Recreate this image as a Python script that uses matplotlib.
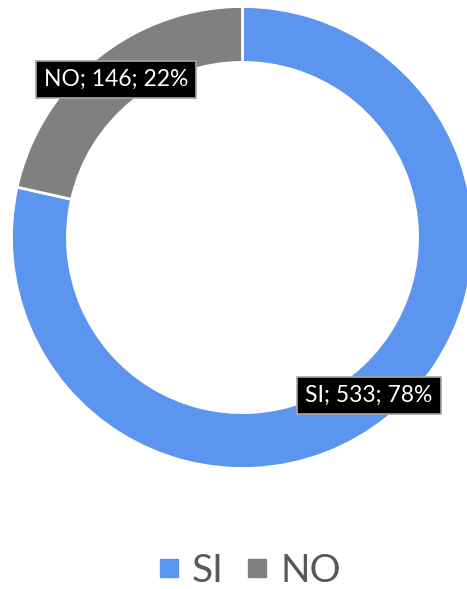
import numpy as np
import matplotlib
matplotlib.use("Agg")
import matplotlib.pyplot as plt
from matplotlib.lines import Line2D

labels = ["SI", "NO"]
counts = [533, 146]
colors = ["#5B95F0", "#808080"]

plt.rcParams['font.family'] = ['Lato', 'DejaVu Sans']

W, H = 467, 589
fig = plt.figure(figsize=(W / 100, H / 100), dpi=100)

# donut geometry in pixels
cx, cy, R = 242.5, 237.5, 231
ax = fig.add_axes([(cx - R) / W, (H - cy - R) / H, 2 * R / W, 2 * R / H])
ax.set_aspect('equal')
ax.axis('off')

wedges, _ = ax.pie(counts, colors=colors, startangle=90, counterclock=False,
                   radius=1, wedgeprops=dict(width=0.242, edgecolor='white', linewidth=2))
ax.set_xlim(-1, 1)
ax.set_ylim(-1, 1)

total = sum(counts)
for w, lab, n in zip(wedges, labels, counts):
    ang = np.deg2rad((w.theta1 + w.theta2) / 2)
    r = 0.875
    pct = round(100 * n / total)
    ax.text(r * np.cos(ang), r * np.sin(ang), f"{lab}; {n}; {pct}%",
            ha='center', va='center', color='white', fontsize=16.5,
            bbox=dict(boxstyle='square,pad=0.35', fc='black', ec='#a6a6a6', lw=1.2))

handles = [Line2D([], [], marker='s', linestyle='none', markersize=13.5,
                  markerfacecolor=c, markeredgecolor=c) for c in colors]
fig.legend(handles, labels, loc='center', bbox_to_anchor=(0.525, 0.031), ncol=2,
           frameon=False, fontsize=28, labelcolor='#595959', handletextpad=0.1,
           columnspacing=0.35, handlelength=1.0)

fig.savefig("out.png", dpi=100)
